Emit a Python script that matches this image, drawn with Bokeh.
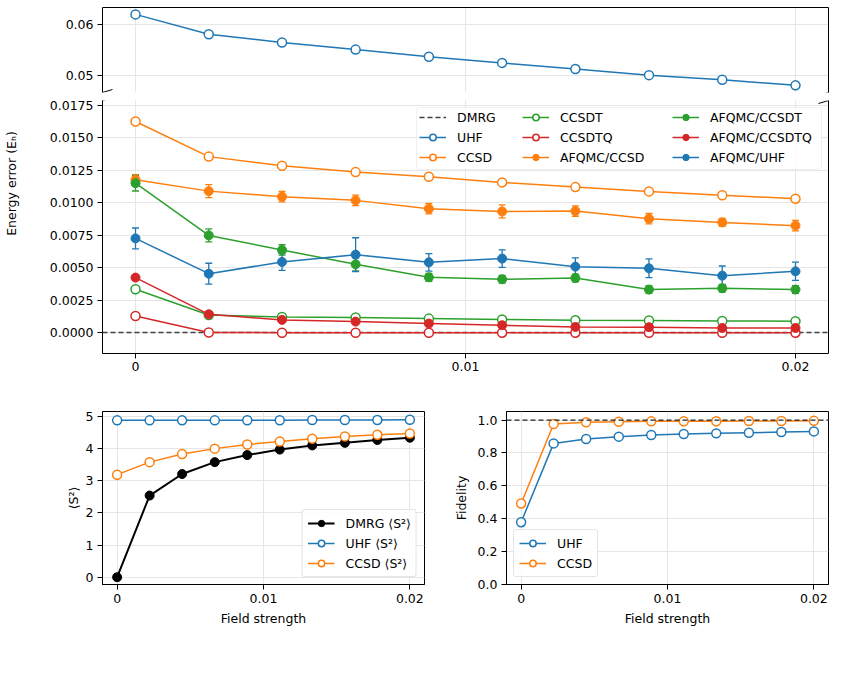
import math
from bokeh.plotting import figure
from bokeh.models import (ColumnDataSource, Whisker, TeeHead, Legend, LegendItem,
                          FixedTicker, NumeralTickFormatter, Span, Arrow, Label,
                          LinearAxis, Range1d, BoxAnnotation)
from bokeh.layouts import column, row
from bokeh.embed import file_html
from bokeh.resources import INLINE

# ---------------- data ----------------
field = [0.0, 0.00222, 0.00444, 0.00667, 0.00889, 0.01111, 0.01333, 0.01556, 0.01778, 0.02]

dmrg_ref = 0.0
uhf_E = [0.0620, 0.0581, 0.0565, 0.0551, 0.0537, 0.0525, 0.0513, 0.0501, 0.0492, 0.0481]
ccsd_E = [0.01624, 0.01354, 0.01284, 0.01235, 0.01200, 0.01156, 0.01120, 0.01087, 0.01058, 0.01031]
ccsdt_E = [0.00335, 0.00138, 0.00123, 0.00118, 0.00110, 0.00103, 0.00097, 0.00095, 0.00092, 0.00090]
ccsdtq_E = [0.00130, 0.00003, 0.00002, 0.00002, 0.00002, 0.00002, 0.00002, 0.00002, 0.00002, 0.00002]

afqmc_ccsd = [0.01176, 0.01089, 0.01046, 0.01018, 0.00954, 0.00933, 0.00936, 0.00877, 0.00849, 0.00824]
afqmc_ccsd_err = [0.0004, 0.0005, 0.0004, 0.0004, 0.0004, 0.0005, 0.0004, 0.0004, 0.0003, 0.0004]
afqmc_ccsdt = [0.01150, 0.00749, 0.00637, 0.00527, 0.00427, 0.00412, 0.00422, 0.00333, 0.00343, 0.00333]
afqmc_ccsdt_err = [0.0006, 0.0005, 0.0004, 0.0005, 0.0003, 0.0003, 0.0003, 0.0003, 0.0003, 0.0003]
afqmc_ccsdtq = [0.00425, 0.00143, 0.00100, 0.00087, 0.00072, 0.00059, 0.00046, 0.00044, 0.00038, 0.00038]
afqmc_ccsdtq_err = [0.0002, 0.0001, 0.0001, 0.0001, 0.0001, 0.0001, 0.0001, 0.0001, 0.0001, 0.0001]
afqmc_uhf = [0.00726, 0.00455, 0.00545, 0.00601, 0.00542, 0.00571, 0.00509, 0.00496, 0.00440, 0.00473]
afqmc_uhf_err = [0.0008, 0.0008, 0.00065, 0.0013, 0.00067, 0.00067, 0.00068, 0.00072, 0.00074, 0.0007]

dmrg_s2 = [0.0, 2.54, 3.21, 3.58, 3.80, 3.97, 4.10, 4.18, 4.27, 4.34]
uhf_s2 = [4.88, 4.88, 4.88, 4.88, 4.885, 4.885, 4.89, 4.89, 4.89, 4.90]
ccsd_s2 = [3.19, 3.58, 3.83, 4.00, 4.13, 4.22, 4.31, 4.38, 4.43, 4.47]

uhf_fid = [0.379, 0.858, 0.885, 0.899, 0.909, 0.915, 0.919, 0.923, 0.927, 0.931]
ccsd_fid = [0.493, 0.976, 0.986, 0.990, 0.992, 0.992, 0.993, 0.994, 0.994, 0.995]
ref_fid = 1.0

x_ticks = [0.0, 0.01, 0.02]
upper_ticks = [0.05, 0.06]
lower_ticks = [0.0, 0.0025, 0.005, 0.0075, 0.01, 0.0125, 0.015, 0.0175]
s2_ticks = [0, 1, 2, 3, 4, 5]
fid_ticks = [0.0, 0.2, 0.4, 0.6, 0.8, 1.0]

# ---------------- style ----------------
BLUE, ORANGE, GREEN, RED = "#1f77b4", "#ff7f0e", "#2ca02c", "#d62728"
FONT = "DejaVu Sans"
FS = "12.5px"
GRID = "#e6e6e6"
MS = 9
LW = 1.5


def style_axis(ax, ticks, fmt):
    ax.ticker = FixedTicker(ticks=ticks)
    ax.formatter = NumeralTickFormatter(format=fmt)
    ax.axis_line_color = "black"
    ax.axis_line_width = 1
    ax.major_tick_line_color = "black"
    ax.major_tick_out = 5
    ax.major_tick_in = 0
    ax.minor_tick_line_color = None
    ax.major_label_text_font = FONT
    ax.major_label_text_font_size = FS
    ax.major_label_text_color = "black"
    ax.major_label_standoff = 4
    ax.axis_label_text_font = FONT
    ax.axis_label_text_font_size = FS
    ax.axis_label_text_font_style = "normal"
    ax.axis_label_text_color = "black"


def blank_axis():
    return LinearAxis(ticker=FixedTicker(ticks=[]), major_tick_line_color=None,
                      minor_tick_line_color=None, major_tick_out=0,
                      major_label_standoff=0, axis_line_color="black",
                      axis_line_width=1)


def base_fig(w, h, yr, bl, br, bt, bb, x_loc="below"):
    p = figure(width=w, height=h, x_range=Range1d(-0.001, 0.021), y_range=Range1d(*yr),
               output_backend="svg", toolbar_location=None, x_axis_location=x_loc,
               min_border_left=bl, min_border_right=br, min_border_top=bt,
               min_border_bottom=bb)
    p.outline_line_color = None
    p.background_fill_color = "white"
    p.border_fill_color = "white"
    p.xgrid.ticker = FixedTicker(ticks=x_ticks)
    for g in (p.xgrid[0], p.ygrid[0]):
        g.grid_line_color = GRID
        g.grid_line_width = 1
    return p


def open_series(p, y, color):
    l = p.line(field, y, line_color=color, line_width=LW)
    s = p.scatter(field, y, marker="circle", size=MS, fill_color="white",
                  line_color=color, line_width=LW)
    return [l, s]


def err_series(p, y, err, color):
    src = ColumnDataSource(dict(x=field, y=y,
                                upper=[a + b for a, b in zip(y, err)],
                                lower=[a - b for a, b in zip(y, err)]))
    w = Whisker(source=src, base="x", upper="upper", lower="lower", dimension="height",
                line_color=color, line_width=1.3,
                upper_head=TeeHead(size=7, line_color=color, line_width=1.3),
                lower_head=TeeHead(size=7, line_color=color, line_width=1.3))
    p.add_layout(w)
    l = p.line("x", "y", source=src, line_color=color, line_width=LW)
    s = p.scatter("x", "y", source=src, marker="circle", size=MS, fill_color=color,
                  line_color=color)
    return [l, s]


def break_marks(p, y):
    for x in (0, 726):
        p.add_layout(Arrow(start=None, end=None, x_start=x - 10, y_start=y - 3,
                           x_end=x + 10, y_end=y + 3, start_units="screen",
                           end_units="screen", line_color="black", line_width=1))


def style_legend(leg, box=True):
    leg.label_text_font = FONT
    leg.label_text_font_size = FS
    leg.label_text_color = "black"
    leg.glyph_width = 27
    leg.glyph_height = 16
    leg.label_standoff = 11
    leg.spacing = 4
    if box:
        leg.padding = 5
        leg.margin = 7
        leg.border_line_color = "#cccccc"
        leg.border_line_width = 1
        leg.background_fill_alpha = 0.85
        leg.border_radius = 3
    else:
        leg.padding = 0
        leg.margin = 0
        leg.border_line_color = None
        leg.background_fill_alpha = 0.0


# ---------------- top (upper part of broken axis) ----------------
pa = base_fig(845, 96, (0.0467, 0.06335), 102, 17, 7, 4, x_loc="above")
pa.xaxis.ticker = FixedTicker(ticks=[])
pa.xaxis.major_tick_line_color = None
pa.xaxis.minor_tick_line_color = None
pa.xaxis.major_tick_out = 0
pa.xaxis.major_label_standoff = 0
pa.xaxis.axis_line_color = "black"
style_axis(pa.yaxis[0], upper_ticks, "0.00")
pa.ygrid.ticker = FixedTicker(ticks=upper_ticks)
pa.add_layout(blank_axis(), "right")
open_series(pa, uhf_E, BLUE)
break_marks(pa, 0)

# ---------------- top (lower part of broken axis) ----------------
pb = base_fig(845, 304, (-0.00158, 0.01785), 102, 17, 4, 47)
style_axis(pb.xaxis[0], x_ticks, "0.[00]")
pb.xaxis.major_label_standoff = 3
style_axis(pb.yaxis[0], lower_ticks, "0.0000")
pb.ygrid.ticker = FixedTicker(ticks=lower_ticks)
pb.add_layout(blank_axis(), "right")

r_dmrg = pb.hspan(y=[dmrg_ref], line_color="#404040", line_width=1.3, line_dash="5 3")
r_uhf = open_series(pb, uhf_E, BLUE)
r_ccsd = open_series(pb, ccsd_E, ORANGE)
r_ccsdt = open_series(pb, ccsdt_E, GREEN)
r_ccsdtq = open_series(pb, ccsdtq_E, RED)
r_a_ccsd = err_series(pb, afqmc_ccsd, afqmc_ccsd_err, ORANGE)
r_a_ccsdt = err_series(pb, afqmc_ccsdt, afqmc_ccsdt_err, GREEN)
r_a_ccsdtq = err_series(pb, afqmc_ccsdtq, afqmc_ccsdtq_err, RED)
r_a_uhf = err_series(pb, afqmc_uhf, afqmc_uhf_err, BLUE)
break_marks(pb, 253)

# legend: backdrop box + three columns
pb.add_layout(BoxAnnotation(left=314, right=719, bottom=184, top=246,
                            left_units="screen", right_units="screen",
                            bottom_units="screen", top_units="screen",
                            fill_color="white", fill_alpha=0.85,
                            line_color="#cccccc", line_width=1, border_radius=3,
                            level="annotation"))
leg_cols = [
    ([("DMRG", [r_dmrg]), ("UHF", r_uhf), ("CCSD", r_ccsd)], 317),
    ([("CCSDT", r_ccsdt), ("CCSDTQ", r_ccsdtq), ("AFQMC/CCSD", r_a_ccsd)], 420),
    ([("AFQMC/CCSDT", r_a_ccsdt), ("AFQMC/CCSDTQ", r_a_ccsdtq), ("AFQMC/UHF", r_a_uhf)], 570),
]
for items, xpos in leg_cols:
    lg = Legend(items=[LegendItem(label=t, renderers=r) for t, r in items],
                location=(xpos, 188))
    style_legend(lg, box=False)
    pb.add_layout(lg)

# y label shared by both parts of the broken axis, placed in the left border
pb.add_layout(Label(x=-20, y=170, x_units="screen", y_units="screen",
                    text="Energy error (Eₕ)", angle=math.pi / 2, text_align="center",
                    text_baseline="middle", text_font=FONT, text_font_size=FS,
                    text_color="black"), "left")

# ---------------- bottom left: <S^2> ----------------
pc = base_fig(430, 280, (-0.227, 5.155), 102, 6, 11, 96)
pc.outline_line_color = "black"
style_axis(pc.xaxis[0], x_ticks, "0.[00]")
style_axis(pc.yaxis[0], s2_ticks, "0")
pc.ygrid.ticker = FixedTicker(ticks=s2_ticks)
pc.xaxis.axis_label = "Field strength"
pc.yaxis.axis_label = "⟨S²⟩"
pc.xaxis.axis_label_standoff = 5
pc.yaxis.axis_label_standoff = 2
l_d = pc.line(field, dmrg_s2, line_color="black", line_width=2)
s_d = pc.scatter(field, dmrg_s2, marker="circle", size=MS, fill_color="black", line_color="black")
r_us2 = open_series(pc, uhf_s2, BLUE)
r_cs2 = open_series(pc, ccsd_s2, ORANGE)
leg_c = Legend(items=[
    LegendItem(label="DMRG ⟨S²⟩", renderers=[l_d, s_d]),
    LegendItem(label="UHF ⟨S²⟩", renderers=r_us2),
    LegendItem(label="CCSD ⟨S²⟩", renderers=r_cs2),
], location="bottom_right")
style_legend(leg_c)
pc.add_layout(leg_c)

# ---------------- bottom right: fidelity ----------------
pd_ = base_fig(415, 280, (0.0, 1.052), 76, 17, 11, 96)
pd_.outline_line_color = "black"
style_axis(pd_.xaxis[0], x_ticks, "0.[00]")
style_axis(pd_.yaxis[0], fid_ticks, "0.0")
pd_.ygrid.ticker = FixedTicker(ticks=fid_ticks)
pd_.xaxis.axis_label = "Field strength"
pd_.yaxis.axis_label = "Fidelity"
pd_.xaxis.axis_label_standoff = 5
pd_.yaxis.axis_label_standoff = 6
pd_.add_layout(Span(location=ref_fid, dimension="width", line_color="#222222",
                    line_width=1.3, line_dash="5 3"))
r_uf = open_series(pd_, uhf_fid, BLUE)
r_cf = open_series(pd_, ccsd_fid, ORANGE)
leg_d = Legend(items=[
    LegendItem(label="UHF", renderers=r_uf),
    LegendItem(label="CCSD", renderers=r_cf),
], location="bottom_left")
style_legend(leg_d)
pd_.add_layout(leg_d)

layout = column(pa, pb, row(pc, pd_))
open("out.html", "w").write(file_html(layout, INLINE))
